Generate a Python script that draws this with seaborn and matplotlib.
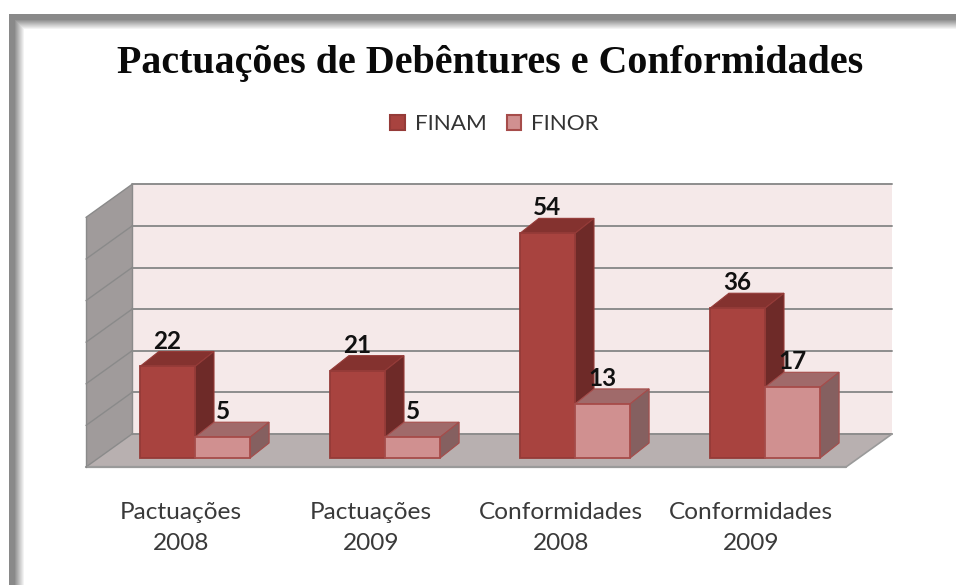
import numpy as np
import pandas as pd
import matplotlib
matplotlib.use("Agg")
import matplotlib.pyplot as plt
from matplotlib.patches import Polygon
from matplotlib.transforms import Affine2D, IdentityTransform
import seaborn as sns

categories = ["Pactuações\n2008", "Pactuações\n2009", "Conformidades\n2008", "Conformidades\n2009"]
finam = [22, 21, 54, 36]
finor = [5, 5, 13, 17]
series_names = ["FINAM", "FINOR"]
title = "Pactuações de Debêntures e Conformidades"

W, H = 956, 585
sns.set_theme(style="white")
plt.rcParams["font.family"] = ["Lato", "DejaVu Sans"]
fig = plt.figure(figsize=(W / 100, H / 100), dpi=100, facecolor="white")

# picture frame (soft grey border on the left and top)
yy, xx = np.mgrid[0:H, 0:W]
def fade(d):
    return np.where(d < 5, 0.54, np.clip(0.54 + (d - 5) / 10 * 0.46, 0, 1))
shade = np.minimum(fade(xx - 9.0), fade(yy - 14.0))
shade = np.where((xx < 9) | (yy < 14), 1.0, shade)
fig.figimage(np.dstack([shade] * 3), origin="upper", zorder=0)

def make_axes(left, right, bottom, top, z):
    a = fig.add_axes([left / W, 1 - bottom / H, (right - left) / W, (bottom - top) / H], facecolor="none")
    a.set_zorder(z)
    return a

YMAX = 60
ax_f = make_axes(86, 846, 467, 467 - 249.6, 1)
ax_b = make_axes(100, 860, 458, 458 - 249.6, 2)
ident = IdentityTransform()

# front plane axes: carries walls, floor, category labels
ax_f.set_xlim(-0.5, 3.5)
ax_f.set_ylim(0, YMAX)
ax_f.set_xticks(range(4))
ax_f.set_xticklabels(categories, fontsize=17.6, color="#3a3a3a", linespacing=1.58)
ax_f.tick_params(axis="x", length=0, pad=25.5)
ax_f.set_yticks([])
for s in ax_f.spines.values():
    s.set_visible(False)
back = ax_f.transData + Affine2D().translate(46, 33)
front = ax_f.transData

def corners(x, y0, y1, t0, t1):
    pts0 = t0.transform([(x, y0), (x, y1)])
    pts1 = t1.transform([(x, y1), (x, y0)])
    return np.vstack([pts0, pts1])

def seg(p, q, **kw):
    ax_f.plot([p[0], q[0]], [p[1], q[1]], transform=ident, clip_on=False, zorder=2, **kw)

# back wall
ax_f.add_patch(Polygon([(-0.5, 0), (3.5, 0), (3.5, YMAX), (-0.5, YMAX)], closed=True, transform=back,
                       fc="#f5e9e9", ec="none", clip_on=False, zorder=1))
# side wall and floor, in display coordinates
ax_f.add_patch(Polygon(corners(-0.5, 0, YMAX, front, back), closed=True, transform=ident,
                       fc="#a09b9b", ec="none", clip_on=False, zorder=1))
p = np.vstack([front.transform([(-0.5, 0), (3.5, 0)]), back.transform([(3.5, 0), (-0.5, 0)])])
ax_f.add_patch(Polygon(p, closed=True, transform=ident, fc="#b8b0b0", ec="none", clip_on=False, zorder=1))
for tick in range(0, YMAX + 1, 10):
    ax_f.plot([-0.5, 3.5], [tick, tick], transform=back, color="#8d8d8d", lw=1.4, clip_on=False, zorder=2)
    seg(front.transform((-0.5, tick)), back.transform((-0.5, tick)), color="#8a8a8a", lw=1.0)
seg(front.transform((-0.5, 0)), front.transform((3.5, 0)), color="#9a9a9a", lw=1.6)
seg(front.transform((3.5, 0)), back.transform((3.5, 0)), color="#9a9a9a", lw=1.2)
seg(front.transform((-0.5, 0)), front.transform((-0.5, YMAX)), color="#8a8a8a", lw=1.0)
seg(back.transform((-0.5, 0)), back.transform((-0.5, YMAX)), color="#8a8a8a", lw=1.0)

# bars
df = pd.DataFrame({
    "categoria": categories * 2,
    "valor": finam + finor,
    "serie": [series_names[0]] * 4 + [series_names[1]] * 4,
})
face = {"FINAM": "#a8433f", "FINOR": "#d09090"}
top_c = {"FINAM": "#84322f", "FINOR": "#a06a6a"}
side_c = {"FINAM": "#6e2a28", "FINOR": "#856060"}
edge_c = {"FINAM": "#953b38", "FINOR": "#a64c4a"}
sns.barplot(data=df, x="categoria", y="valor", hue="serie", order=categories, palette=face, saturation=1,
            width=0.58, gap=0, dodge=True, ax=ax_b, legend=True, errorbar=None)
ax_b.set_xlim(-0.5, 3.5)
ax_b.set_ylim(0, YMAX)
ax_b.set_xticks([])
ax_b.set_yticks([])
ax_b.set_xlabel("")
ax_b.set_ylabel("")
for s in ax_b.spines.values():
    s.set_visible(False)

DX, DY = 19 / 190, 15 / (249.6 / YMAX)
for i, (cont, name) in enumerate(zip(ax_b.containers, series_names)):
    base_z = 3 + 2 * i
    for bar in cont:
        x0, x1 = bar.get_x(), bar.get_x() + bar.get_width()
        y1 = bar.get_height()
        bar.set_edgecolor(edge_c[name])
        bar.set_linewidth(1.3)
        bar.set_zorder(base_z + 1)
        bar.set_clip_on(False)
        ax_b.add_patch(Polygon([(x0, y1), (x1, y1), (x1 + DX, y1 + DY), (x0 + DX, y1 + DY)], closed=True,
                               fc=top_c[name], ec=edge_c[name], lw=0.8, zorder=base_z, clip_on=False))
        ax_b.add_patch(Polygon([(x1, 0), (x1 + DX, DY), (x1 + DX, y1 + DY), (x1, y1)], closed=True,
                               fc=side_c[name], ec=edge_c[name], lw=0.8, zorder=base_z, clip_on=False))
    labels = ax_b.bar_label(cont, padding=10, fontsize=17.5, fontweight="bold", color="#111111", zorder=10)
    for t in labels:
        t.set_clip_on(False)

handles, lab = ax_b.get_legend_handles_labels()
for h, name in zip(handles, series_names):
    h.set_edgecolor(edge_c[name])
    h.set_linewidth(1.5)
ax_b.legend(handles, lab, loc="center", bbox_to_anchor=(494.5 / W, 1 - 124 / H), bbox_transform=fig.transFigure,
            ncol=2, frameon=False, fontsize=16.2, handlelength=0.65, handleheight=0.65, handletextpad=0.45,
            columnspacing=0.9, labelcolor="#333333", borderpad=0)

fig.text(490 / W, 1 - 64 / H, title, ha="center", va="center", fontsize=28.8, fontweight="bold",
         family=["Liberation Serif", "DejaVu Serif"], color="#0a0a0a")

fig.savefig("out.png", dpi=100)
